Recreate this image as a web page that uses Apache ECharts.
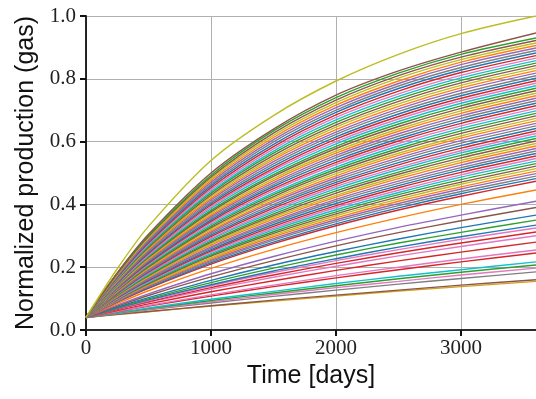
<!DOCTYPE html>
<html>
<head>
<meta charset="utf-8">
<script src="https://cdn.jsdelivr.net/npm/echarts@6/dist/echarts.min.js"></script>
<style>
html,body{margin:0;padding:0;background:#fff;}
#chart{width:536px;height:399px;}
</style>
</head>
<body>
<div id="chart"></div>
<script>
// ---- data ----
const times = [0, 250, 500, 1000, 1500, 2000, 2500, 3000, 3600];
const startValue = 0.04;
// order: top curve, second curve, dense band (58 curves), sparse lower curves (18)
const at250 = [0.195, 0.182,
  0.181, 0.179, 0.177, 0.175, 0.173, 0.171, 0.169, 0.167, 0.165, 0.163, 0.161,
  0.160, 0.158, 0.156, 0.154, 0.152, 0.151, 0.149, 0.147, 0.145, 0.143,
  0.142, 0.140, 0.139, 0.137, 0.135, 0.134, 0.132, 0.130, 0.129, 0.127,
  0.125, 0.124, 0.122, 0.121, 0.119, 0.118, 0.116, 0.115, 0.113, 0.112,
  0.110, 0.109, 0.107, 0.106, 0.105, 0.103, 0.102, 0.100, 0.099, 0.098,
  0.096, 0.095, 0.094, 0.092, 0.091, 0.090, 0.089,
  0.084, 0.079, 0.076, 0.073, 0.071, 0.069, 0.068, 0.066, 0.065, 0.062, 0.059, 0.058, 0.055, 0.054, 0.053, 0.052, 0.050, 0.049];
const at500 = [0.33, 0.305,
  0.301, 0.298, 0.294, 0.291, 0.287, 0.284, 0.281, 0.277, 0.274, 0.270, 0.267,
  0.263, 0.260, 0.257, 0.254, 0.250, 0.247, 0.244, 0.240, 0.237, 0.234,
  0.231, 0.228, 0.225, 0.222, 0.219, 0.216, 0.213, 0.210, 0.207, 0.204,
  0.201, 0.198, 0.195, 0.192, 0.189, 0.187, 0.184, 0.181, 0.178, 0.175,
  0.173, 0.170, 0.168, 0.165, 0.162, 0.160, 0.157, 0.155, 0.152, 0.150,
  0.147, 0.145, 0.142, 0.140, 0.138, 0.135, 0.133,
  0.125, 0.115, 0.110, 0.103, 0.099, 0.096, 0.093, 0.090, 0.088, 0.083, 0.078, 0.076, 0.070, 0.068, 0.066, 0.064, 0.059, 0.058];
const at1000 = [0.54, 0.50,
  0.493, 0.487, 0.482, 0.476, 0.470, 0.464, 0.459, 0.453, 0.447, 0.441, 0.436,
  0.430, 0.425, 0.419, 0.414, 0.408, 0.403, 0.398, 0.392, 0.387, 0.381,
  0.376, 0.371, 0.366, 0.361, 0.356, 0.351, 0.346, 0.341, 0.336, 0.331,
  0.326, 0.321, 0.316, 0.312, 0.307, 0.302, 0.297, 0.292, 0.288, 0.283,
  0.279, 0.274, 0.270, 0.265, 0.261, 0.256, 0.252, 0.248, 0.243, 0.239,
  0.235, 0.230, 0.226, 0.222, 0.218, 0.214, 0.210,
  0.196, 0.179, 0.169, 0.158, 0.151, 0.144, 0.141, 0.135, 0.130, 0.122, 0.112, 0.108, 0.098, 0.094, 0.090, 0.086, 0.077, 0.076];
const at1500 = [0.683, 0.64,
  0.634, 0.627, 0.620, 0.613, 0.606, 0.599, 0.591, 0.584, 0.577, 0.570, 0.563,
  0.556, 0.549, 0.543, 0.536, 0.529, 0.522, 0.515, 0.509, 0.502, 0.495,
  0.489, 0.482, 0.476, 0.469, 0.463, 0.457, 0.450, 0.444, 0.437, 0.431,
  0.425, 0.419, 0.413, 0.407, 0.400, 0.394, 0.388, 0.382, 0.376, 0.370,
  0.364, 0.359, 0.353, 0.347, 0.342, 0.336, 0.330, 0.324, 0.319, 0.313,
  0.308, 0.302, 0.297, 0.291, 0.286, 0.280, 0.275,
  0.257, 0.234, 0.221, 0.207, 0.197, 0.188, 0.183, 0.175, 0.168, 0.157, 0.143, 0.138, 0.123, 0.118, 0.113, 0.107, 0.095, 0.092];
const at2000 = [0.793, 0.748,
  0.740, 0.732, 0.724, 0.716, 0.708, 0.700, 0.693, 0.685, 0.677, 0.669, 0.661,
  0.653, 0.646, 0.638, 0.630, 0.623, 0.615, 0.608, 0.600, 0.593, 0.585,
  0.578, 0.570, 0.563, 0.556, 0.549, 0.541, 0.534, 0.527, 0.519, 0.512,
  0.505, 0.498, 0.491, 0.484, 0.477, 0.470, 0.464, 0.457, 0.450, 0.443,
  0.436, 0.429, 0.423, 0.416, 0.410, 0.403, 0.396, 0.390, 0.383, 0.376,
  0.370, 0.364, 0.357, 0.351, 0.345, 0.338, 0.332,
  0.310, 0.283, 0.268, 0.250, 0.239, 0.227, 0.221, 0.212, 0.203, 0.190, 0.173, 0.166, 0.148, 0.141, 0.135, 0.127, 0.111, 0.108];
const at2500 = [0.878, 0.825,
  0.818, 0.810, 0.802, 0.793, 0.785, 0.777, 0.769, 0.761, 0.752, 0.744, 0.736,
  0.728, 0.720, 0.712, 0.704, 0.696, 0.688, 0.680, 0.672, 0.664, 0.656,
  0.648, 0.640, 0.633, 0.625, 0.617, 0.609, 0.602, 0.594, 0.586, 0.578,
  0.571, 0.563, 0.556, 0.548, 0.541, 0.533, 0.526, 0.518, 0.511, 0.503,
  0.496, 0.489, 0.482, 0.474, 0.467, 0.460, 0.453, 0.445, 0.438, 0.431,
  0.424, 0.417, 0.410, 0.403, 0.396, 0.389, 0.382,
  0.357, 0.327, 0.310, 0.290, 0.277, 0.264, 0.256, 0.246, 0.236, 0.220, 0.200, 0.192, 0.171, 0.163, 0.155, 0.146, 0.127, 0.124];
const at3000 = [0.944, 0.885,
  0.878, 0.869, 0.861, 0.853, 0.845, 0.836, 0.828, 0.820, 0.811, 0.803, 0.795,
  0.787, 0.779, 0.771, 0.763, 0.754, 0.746, 0.738, 0.730, 0.722, 0.714,
  0.706, 0.698, 0.690, 0.682, 0.674, 0.666, 0.658, 0.650, 0.642, 0.634,
  0.626, 0.618, 0.611, 0.603, 0.595, 0.587, 0.579, 0.571, 0.564, 0.556,
  0.548, 0.540, 0.533, 0.525, 0.517, 0.510, 0.502, 0.494, 0.487, 0.479,
  0.471, 0.464, 0.456, 0.449, 0.441, 0.434, 0.426,
  0.400, 0.366, 0.348, 0.326, 0.311, 0.297, 0.289, 0.277, 0.266, 0.248, 0.226, 0.217, 0.192, 0.184, 0.175, 0.164, 0.143, 0.138];
const at3600 = [1.0, 0.946,
  0.930, 0.922, 0.914, 0.906, 0.898, 0.890, 0.882, 0.874, 0.866, 0.858, 0.850,
  0.842, 0.834, 0.826, 0.818, 0.810, 0.802, 0.794, 0.786, 0.778, 0.770,
  0.762, 0.754, 0.746, 0.738, 0.730, 0.722, 0.714, 0.706, 0.698, 0.690,
  0.682, 0.674, 0.666, 0.658, 0.650, 0.642, 0.634, 0.626, 0.618, 0.610,
  0.602, 0.594, 0.586, 0.578, 0.570, 0.562, 0.554, 0.546, 0.538, 0.530,
  0.522, 0.514, 0.506, 0.498, 0.490, 0.482, 0.474,
  0.446, 0.41, 0.39, 0.366, 0.35, 0.334, 0.325, 0.312, 0.30, 0.28, 0.255, 0.245, 0.217, 0.207, 0.197, 0.185, 0.16, 0.155];
const yTicks = [0, 0.2, 0.4, 0.6, 0.8, 1.0];
const xTicks = [0, 1000, 2000, 3000];

// ---- styles ----
const tab10 = ['#1f77b4','#ff7f0e','#2ca02c','#d62728','#9467bd','#8c564b','#e377c2','#7f7f7f','#bcbd22','#17becf'];
const topColors = ['#bcbd22', '#8c564b'];
const sparseColors = ['#ff7f0e','#9467bd','#8c564b','#1f77b4','#2ca02c','#1f77b4','#e377c2','#d62728','#e377c2','#d62728','#e377c2','#d62728','#17becf','#2ca02c','#e377c2','#7f7f7f','#8c564b','#d4a017'];
const nDense = 58;
function colorFor(i) {
  if (i < 2) return topColors[i];
  if (i < 2 + nDense) return tab10[((i - 2) * 3 + 2) % 10];
  return sparseColors[i - 2 - nDense];
}

const series = [];
for (let i = at3600.length - 1; i >= 0; i--) {
  const vals = [startValue, at250[i], at500[i], at1000[i], at1500[i], at2000[i], at2500[i], at3000[i], at3600[i]];
  series.push({
    type: 'line',
    data: times.map((t, j) => [t, vals[j]]),
    symbol: 'none',
    smooth: 0.3,
    silent: true,
    lineStyle: { width: 1.4, color: colorFor(i) },
    itemStyle: { color: colorFor(i) }
  });
}

const chart = echarts.init(document.getElementById('chart'), null, { renderer: 'canvas' });
chart.setOption({
  animation: false,
  backgroundColor: '#ffffff',
  grid: { left: 86, right: 0, top: 16, bottom: 69, containLabel: false },
  xAxis: [{
    type: 'value', min: 0, max: 3600, interval: 1000,
    name: 'Time [days]', nameLocation: 'middle', nameGap: 32,
    nameTextStyle: { fontFamily: 'Liberation Sans', fontSize: 25, color: '#111' },
    axisLine: { show: true, onZero: false, lineStyle: { color: '#111', width: 1.8 } },
    axisTick: { show: true, inside: false, length: 6, lineStyle: { color: '#111', width: 2 } },
    axisLabel: { fontFamily: 'Liberation Serif', fontSize: 21, color: '#222', margin: 8, showMaxLabel: false,
      formatter: v => xTicks.indexOf(v) >= 0 ? String(v) : '' },
    splitLine: { show: true, lineStyle: { color: '#b0b0b0', width: 1 } }
  }, {
    type: 'value', min: 0, max: 3600, position: 'top',
    axisLine: { show: true, lineStyle: { color: '#333', width: 1.5 } },
    axisTick: { show: false }, axisLabel: { show: false }, splitLine: { show: false }
  }],
  yAxis: {
    type: 'value', min: 0, max: 1, interval: 0.2,
    name: 'Normalized production (gas)', nameLocation: 'middle', nameGap: 42, nameRotate: 90,
    nameTextStyle: { fontFamily: 'Liberation Sans', fontSize: 25, color: '#111' },
    axisLine: { show: true, onZero: false, lineStyle: { color: '#111', width: 1.8 } },
    axisTick: { show: true, inside: false, length: 6, lineStyle: { color: '#111', width: 2 } },
    axisLabel: { fontFamily: 'Liberation Serif', fontSize: 21, color: '#222', margin: 10,
      formatter: v => yTicks.some(t => Math.abs(t - v) < 1e-9) ? v.toFixed(1) : '' },
    splitLine: { show: true, lineStyle: { color: '#b0b0b0', width: 1 } }
  },
  series: series
});
</script>
</body>
</html>
